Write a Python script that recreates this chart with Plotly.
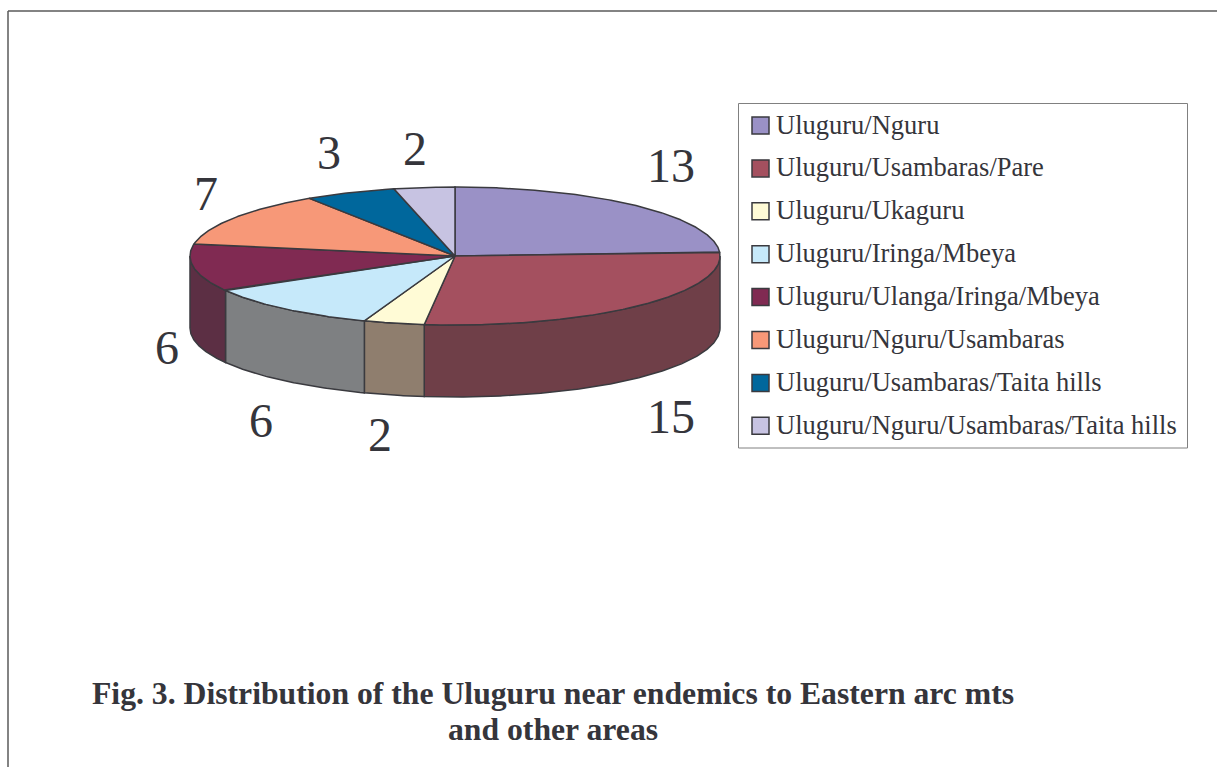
import numpy as np
import plotly.graph_objects as go

categories = ["Uluguru/Nguru", "Uluguru/Usambaras/Pare", "Uluguru/Ukaguru", "Uluguru/Iringa/Mbeya",
              "Uluguru/Ulanga/Iringa/Mbeya", "Uluguru/Nguru/Usambaras", "Uluguru/Usambaras/Taita hills",
              "Uluguru/Nguru/Usambaras/Taita hills"]
values = [13, 15, 2, 6, 6, 7, 3, 2]
top_colors = ["#9a91c6", "#a4505f", "#fffbd6", "#c6e9fa", "#802a52", "#f79878", "#00679c", "#c7c3e2"]
side_colors = ["#5f5a7c", "#6f3f48", "#8f7e6e", "#7e8082", "#5c2f44", "#9a6650", "#004468", "#7d7a8e"]
label_pos = [(671, 165.5), (671, 416.5), (380, 434.5), (261, 420.5), (167, 347.5), (206, 193.5), (329, 152.5), (415, 148.5)]

EDGE = "#3a3a3f"
TEXT = "#35353b"
SERIF = "Liberation Serif"
CX, CY, RX, RY, DEPTH = 455, 256, 265, 69, 72


def rim(a, b, dy=0.0):
    t = np.radians(np.linspace(a, b, max(2, int(abs(b - a) * 2) + 1)))
    return CX + RX * np.sin(t), CY - RY * np.cos(t) + dy


fig = go.Figure()
edges = np.concatenate([[0], np.cumsum(values)]) / sum(values) * 360

# side walls: only the part of each slice that faces the viewer
for i, cat in enumerate(categories):
    a, b = max(edges[i], 90), min(edges[i + 1], 270)
    if a >= b:
        continue
    x1, y1 = rim(a, b)
    x2, y2 = rim(b, a, DEPTH)
    fig.add_trace(go.Scatter(x=np.r_[x1, x2, x1[0]], y=np.r_[y1, y2, y1[0]], mode="lines", fill="toself",
                             fillcolor=side_colors[i], line=dict(color=EDGE, width=1.5),
                             hoverinfo="skip", showlegend=False))

# top face
for i, cat in enumerate(categories):
    x, y = rim(edges[i], edges[i + 1])
    fig.add_trace(go.Scatter(x=np.r_[CX, x, CX], y=np.r_[CY, y, CY], mode="lines", fill="toself",
                             fillcolor=top_colors[i], line=dict(color=EDGE, width=1.5),
                             name=cat, text=f"{cat}: {values[i]}", hoverinfo="text", showlegend=False))

annotations = []
shapes = [
    dict(type="line", x0=8, x1=1217, y0=11, y1=11, line=dict(color="#5a5a5a", width=1.5)),
    dict(type="line", x0=8, x1=8, y0=11, y1=767, line=dict(color="#5a5a5a", width=1.5)),
    dict(type="rect", x0=738.5, x1=1187.5, y0=103.5, y1=448, line=dict(color="#808080", width=1)),
]

for v, (lx, ly) in zip(values, label_pos):
    annotations.append(dict(x=lx, y=ly, text=str(v), showarrow=False, xanchor="center", yanchor="middle",
                            font=dict(family=SERIF, size=48, color=TEXT)))

# legend
for i, cat in enumerate(categories):
    ly = 125.5 + i * 42.9
    shapes.append(dict(type="rect", x0=752, x1=769, y0=ly - 8.5, y1=ly + 8.5, fillcolor=top_colors[i],
                       line=dict(color=EDGE, width=1.5)))
    annotations.append(dict(x=773.5, y=ly - 1, text=cat, showarrow=False, xanchor="left", yanchor="middle",
                            font=dict(family=SERIF, size=26.5, color=TEXT)))

for line, ly in [("Fig. 3. Distribution of the Uluguru near endemics to Eastern arc mts", 693),
                 ("and other areas", 729)]:
    annotations.append(dict(x=553, y=ly, text=line, showarrow=False, xanchor="center", yanchor="middle",
                            font=dict(family=SERIF, size=31.7, color=TEXT, weight="bold")))

fig.update_layout(width=1217, height=767, margin=dict(l=0, r=0, t=0, b=0), paper_bgcolor="white",
                  plot_bgcolor="white", showlegend=False, shapes=shapes, annotations=annotations,
                  xaxis=dict(range=[0, 1217], visible=False, fixedrange=True),
                  yaxis=dict(range=[767, 0], visible=False, fixedrange=True))
fig.write_html("out.html", config=dict(displayModeBar=False),
               post_script="document.body.style.margin='0';document.documentElement.style.overflow='hidden';")
